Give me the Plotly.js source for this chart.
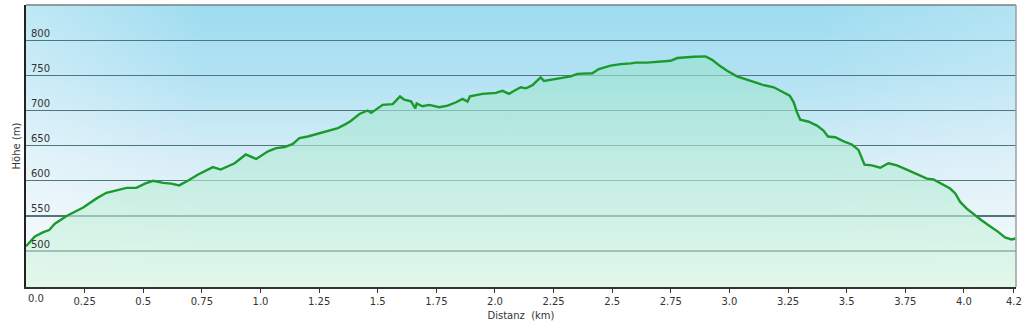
<!DOCTYPE html>
<html>
<head>
<meta charset="utf-8">
<script src="https://cdn.plot.ly/plotly-3.0.1.min.js"></script>
<style>html,body{margin:0;padding:0;background:#fff;}#chart{width:1024px;height:328px;}</style>
</head>
<body>
<div id="chart"></div>
<script>
// Distance along the route (km)
const distanceKm = [
  0.000,0.038,0.074,0.099,0.123,0.173,0.244,0.301,0.343,0.386,0.429,0.471,0.507,0.542,0.585,0.620,0.653,0.690,
  0.734,0.797,0.830,0.890,0.937,0.982,1.032,1.067,1.103,1.138,1.166,1.202,1.244,1.287,1.330,1.365,1.385,
  1.422,1.457,1.472,1.521,1.564,1.595,1.613,1.642,1.660,1.666,1.691,1.720,1.762,1.798,1.834,1.862,1.883,1.893,
  1.947,2.004,2.032,2.060,2.082,2.110,2.132,2.160,2.188,2.195,2.209,2.252,2.280,2.323,2.351,2.415,2.443,2.493,
  2.536,2.579,2.600,2.649,2.706,2.749,2.777,2.827,2.848,2.898,2.926,2.954,2.990,3.032,3.089,3.139,3.189,3.231,
  3.257,3.274,3.288,3.302,3.338,3.373,3.401,3.420,3.451,3.487,3.522,3.550,3.564,3.576,3.607,3.643,3.678,3.714,
  3.756,3.799,3.842,3.870,3.899,3.941,3.963,3.984,4.012,4.041,4.075,4.111,4.146,4.175,4.203,4.220
];
// Elevation (m)
const elevationM = [
  507,521,527,530,539,550,562,575,583,586.5,590,590,596,600,597,596,593.5,600,
  609,619.5,616,625,637.5,631,642,646.5,648,652.5,660.6,663,667,671.5,675,681,685,
  695,700,696.6,708,709,720,715.5,713,703,710,706,708,704.6,707,711.7,716.5,712.6,720,
  723.6,725,728,723.6,728,733,731.5,736,745,747,742,745,746,748.5,752,753,759,763.7,
  766,767,768,768,769,770.7,774.6,776.4,776.4,777,772,764.7,756.6,748.5,742.4,736.7,733,726,
  721,711.7,697.5,687,684,678.6,671.5,663,662,656,651.7,644,633.7,623,622,618.6,625,622,
  616,609,603,602,597,589,582,570,560.5,552.5,544,535.4,527.4,519.4,516.6,518
];
// Axis ticks
const xTickVals = [0,0.25,0.5,0.75,1.0,1.25,1.5,1.75,2.0,2.25,2.5,2.75,3.0,3.25,3.5,3.75,4.0,4.213];
const xTickText = ["0.0","0.25","0.5","0.75","1.0","1.25","1.5","1.75","2.0","2.25","2.5","2.75","3.0","3.25","3.5","3.75","4.0","4.2"];
const yTickVals = [500,550,600,650,700,750,800];
const yTickText = ["500","550","600","650","700","750","800"];
const xRange = [0, 4.222];
const yRange = [449, 850];

// Background gradient of the plot area
function makeBg() {
  const c = document.createElement('canvas');
  c.width = 990; c.height = 282;
  const g = c.getContext('2d');
  const lin = g.createLinearGradient(0, 0, 0, c.height);
  lin.addColorStop(0.0, '#9ddcf0');
  lin.addColorStop(0.25, '#b2e2f3');
  lin.addColorStop(0.55, '#d6edf7');
  lin.addColorStop(0.8, '#eaf5f9');
  lin.addColorStop(1.0, '#f4faf9');
  g.fillStyle = lin; g.fillRect(0, 0, c.width, c.height);
  const side = g.createLinearGradient(0, 0, c.width, 0);
  side.addColorStop(0.0, 'rgba(255,255,255,0.35)');
  side.addColorStop(0.18, 'rgba(255,255,255,0.0)');
  side.addColorStop(0.8, 'rgba(255,255,255,0.0)');
  side.addColorStop(1.0, 'rgba(255,255,255,0.2)');
  g.fillStyle = side; g.fillRect(0, 0, c.width, c.height);
  return c.toDataURL('image/png');
}

const font = {family: 'DejaVu Sans, Verdana, sans-serif', size: 10, color: '#333333'};

const trace = {
  x: distanceKm,
  y: elevationM,
  type: 'scatter',
  mode: 'lines',
  line: {color: '#1a9a2c', width: 2.4},
  fill: 'tozeroy',
  fillgradient: {
    type: 'vertical',
    start: yRange[0],
    stop: Math.max(...elevationM),
    colorscale: [[0, 'rgba(214,245,224,0.62)'], [1, 'rgba(150,226,206,0.62)']]
  },
  hoverinfo: 'skip'
};

const layout = {
  width: 1024, height: 328,
  margin: {l: 26, r: 8, t: 5, b: 41},
  paper_bgcolor: '#ffffff',
  plot_bgcolor: 'rgba(0,0,0,0)',
  showlegend: false,
  font: font,
  xaxis: {
    range: xRange,
    tickvals: xTickVals, ticktext: xTickText,
    ticks: 'outside', ticklen: 4, tickwidth: 1, tickcolor: '#333333',
    ticklabeloverflow: 'allow',
    showline: true, linecolor: '#333333', linewidth: 1.5,
    showgrid: false, zeroline: false,
    tickfont: font,
    title: {text: 'Distanz  (km)', font: font, standoff: 6}
  },
  yaxis: {
    range: yRange,
    tickvals: yTickVals, ticktext: yTickText,
    ticks: '', showline: true, linecolor: '#222222', linewidth: 2,
    showgrid: true, gridcolor: '#52747c', gridwidth: 1.3,
    zeroline: false,
    ticklabelposition: 'inside',
    ticklabelshift: -7,
    ticklabelstandoff: 4,
    tickfont: font,
    title: {text: 'Höhe (m)', font: font, standoff: 9}
  },
  annotations: [{
    // first x tick label (Plotly hides it at the corner next to inside y labels)
    text: xTickText[0], x: xTickVals[0], xref: 'x', y: 0, yref: 'paper',
    xanchor: 'left', yanchor: 'top', yshift: -4, xshift: 0, showarrow: false,
    font: font
  }],
  images: [{
    source: makeBg(), xref: 'paper', yref: 'paper', x: 0, y: 1,
    sizex: 1, sizey: 1, sizing: 'stretch', xanchor: 'left', yanchor: 'top', layer: 'below'
  }],
  shapes: [
    {type: 'line', xref: 'paper', yref: 'paper', x0: 0, x1: 1, y0: 1, y1: 1, line: {color: '#7a7f82', width: 1.5}},
    {type: 'line', xref: 'paper', yref: 'paper', x0: 1, x1: 1, y0: 0, y1: 1, line: {color: '#9a9fa2', width: 1.5}}
  ]
};

Plotly.newPlot('chart', [trace], layout, {displayModeBar: false, staticPlot: true});
</script>
</body>
</html>
